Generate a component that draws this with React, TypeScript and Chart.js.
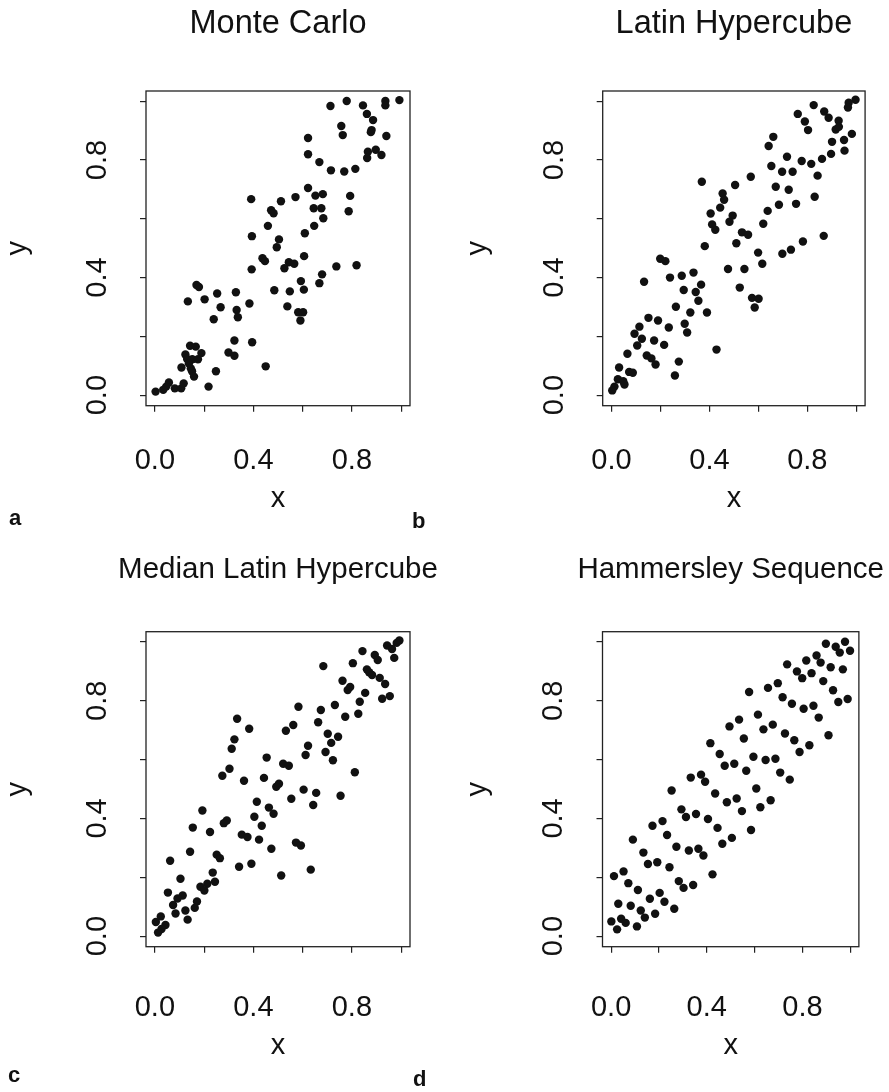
import React, { useEffect, useRef } from 'react';
import { Chart, registerables } from 'chart.js';

Chart.register(...registerables);

const FONT = "'Liberation Sans', Arial, Helvetica, sans-serif";
const INK = '#111111';

const titles = ['Monte Carlo', 'Latin Hypercube', 'Median Latin Hypercube', 'Hammersley Sequence'];
const panelLetters = ['a', 'b', 'c', 'd'];
const tickValues = [0, 0.2, 0.4, 0.6, 0.8, 1.0];
const tickLabels = ['0.0', '', '0.4', '', '0.8', ''];

// a: Monte Carlo
const mcX = [0.713, 0.779, 0.845, 0.936, 0.936, 0.993, 0.861, 0.886, 0.757, 0.763, 0.880, 0.877, 0.622, 0.940, 0.622, 0.865, 0.897, 0.862, 0.920, 0.668, 0.715, 0.769, 0.814, 0.622, 0.652, 0.682, 0.571, 0.793, 0.391, 0.512, 0.472, 0.482, 0.645, 0.676, 0.787, 0.684, 0.459, 0.647, 0.394, 0.504, 0.609, 0.495, 0.437, 0.447, 0.606, 0.544, 0.566, 0.526, 0.393, 0.737, 0.819, 0.679, 0.668, 0.593, 0.605, 0.485, 0.548, 0.169, 0.179, 0.253, 0.329, 0.134, 0.202, 0.267, 0.384, 0.538, 0.332, 0.337, 0.239, 0.582, 0.602, 0.591, 0.323, 0.395, 0.143, 0.166, 0.299, 0.323, 0.189, 0.124, 0.131, 0.152, 0.175, 0.138, 0.108, 0.146, 0.151, 0.159, 0.450, 0.248, 0.218, 0.057, 0.046, 0.034, 0.003, 0.081, 0.107, 0.117];
const mcY = [0.984, 1.001, 0.986, 1.001, 0.986, 1.004, 0.957, 0.936, 0.916, 0.885, 0.902, 0.895, 0.875, 0.882, 0.820, 0.828, 0.835, 0.807, 0.817, 0.793, 0.765, 0.761, 0.770, 0.705, 0.679, 0.684, 0.674, 0.678, 0.667, 0.660, 0.629, 0.619, 0.636, 0.636, 0.626, 0.602, 0.576, 0.576, 0.541, 0.530, 0.551, 0.503, 0.466, 0.456, 0.473, 0.452, 0.447, 0.432, 0.428, 0.438, 0.442, 0.411, 0.381, 0.388, 0.359, 0.357, 0.353, 0.375, 0.368, 0.346, 0.350, 0.319, 0.326, 0.299, 0.312, 0.302, 0.290, 0.265, 0.258, 0.282, 0.282, 0.254, 0.186, 0.180, 0.168, 0.165, 0.145, 0.134, 0.143, 0.138, 0.123, 0.122, 0.122, 0.108, 0.094, 0.091, 0.081, 0.063, 0.098, 0.081, 0.029, 0.043, 0.029, 0.018, 0.012, 0.023, 0.023, 0.040];

// b: Latin Hypercube
const lhX = [0.997, 0.969, 0.966, 0.826, 0.869, 0.887, 0.928, 0.761, 0.790, 0.803, 0.916, 0.929, 0.982, 0.950, 0.901, 0.952, 0.897, 0.860, 0.816, 0.777, 0.661, 0.642, 0.717, 0.653, 0.697, 0.740, 0.842, 0.569, 0.369, 0.505, 0.671, 0.724, 0.830, 0.454, 0.460, 0.444, 0.405, 0.495, 0.482, 0.684, 0.754, 0.638, 0.620, 0.411, 0.424, 0.533, 0.558, 0.782, 0.867, 0.381, 0.510, 0.733, 0.698, 0.599, 0.616, 0.199, 0.220, 0.476, 0.543, 0.239, 0.287, 0.335, 0.133, 0.366, 0.295, 0.344, 0.524, 0.355, 0.574, 0.601, 0.585, 0.263, 0.322, 0.390, 0.151, 0.190, 0.299, 0.234, 0.114, 0.309, 0.094, 0.124, 0.174, 0.105, 0.215, 0.429, 0.065, 0.144, 0.163, 0.180, 0.275, 0.259, 0.031, 0.072, 0.087, 0.026, 0.048, 0.053, 0.012, 0.003];
const lhY = [1.005, 0.995, 0.979, 0.987, 0.965, 0.944, 0.934, 0.957, 0.931, 0.902, 0.904, 0.913, 0.889, 0.868, 0.862, 0.832, 0.821, 0.804, 0.787, 0.797, 0.879, 0.848, 0.811, 0.780, 0.760, 0.760, 0.747, 0.743, 0.726, 0.715, 0.709, 0.699, 0.675, 0.686, 0.665, 0.638, 0.618, 0.611, 0.590, 0.648, 0.651, 0.627, 0.583, 0.581, 0.563, 0.554, 0.546, 0.523, 0.542, 0.507, 0.517, 0.495, 0.481, 0.485, 0.447, 0.464, 0.456, 0.429, 0.429, 0.400, 0.406, 0.417, 0.386, 0.376, 0.358, 0.351, 0.366, 0.321, 0.331, 0.328, 0.298, 0.301, 0.281, 0.281, 0.263, 0.254, 0.243, 0.230, 0.233, 0.213, 0.209, 0.192, 0.186, 0.169, 0.171, 0.155, 0.141, 0.135, 0.125, 0.104, 0.114, 0.067, 0.094, 0.079, 0.076, 0.054, 0.047, 0.036, 0.029, 0.016];

// c: Median Latin Hypercube
const mlhX = [0.993, 0.982, 0.943, 0.963, 0.843, 0.893, 0.905, 0.972, 0.684, 0.804, 0.861, 0.870, 0.882, 0.913, 0.935, 0.762, 0.793, 0.783, 0.854, 0.954, 0.923, 0.832, 0.731, 0.674, 0.583, 0.773, 0.826, 0.663, 0.334, 0.383, 0.562, 0.532, 0.702, 0.744, 0.323, 0.716, 0.622, 0.312, 0.693, 0.612, 0.454, 0.723, 0.521, 0.544, 0.812, 0.303, 0.274, 0.362, 0.443, 0.504, 0.493, 0.604, 0.655, 0.754, 0.554, 0.643, 0.414, 0.463, 0.482, 0.193, 0.404, 0.292, 0.280, 0.434, 0.154, 0.224, 0.353, 0.376, 0.423, 0.573, 0.593, 0.473, 0.143, 0.251, 0.264, 0.062, 0.342, 0.392, 0.633, 0.235, 0.513, 0.104, 0.244, 0.213, 0.185, 0.201, 0.053, 0.113, 0.092, 0.171, 0.074, 0.162, 0.124, 0.084, 0.024, 0.133, 0.004, 0.043, 0.027, 0.013];
const mlhY = [1.005, 0.997, 0.988, 0.976, 0.969, 0.956, 0.939, 0.946, 0.918, 0.928, 0.907, 0.897, 0.888, 0.878, 0.857, 0.868, 0.847, 0.837, 0.827, 0.816, 0.807, 0.797, 0.786, 0.769, 0.780, 0.746, 0.756, 0.727, 0.739, 0.705, 0.718, 0.698, 0.688, 0.678, 0.669, 0.657, 0.647, 0.637, 0.626, 0.616, 0.607, 0.598, 0.586, 0.579, 0.557, 0.569, 0.545, 0.528, 0.538, 0.518, 0.508, 0.498, 0.487, 0.477, 0.467, 0.446, 0.457, 0.437, 0.416, 0.427, 0.406, 0.393, 0.384, 0.375, 0.369, 0.354, 0.345, 0.337, 0.328, 0.318, 0.308, 0.297, 0.287, 0.277, 0.265, 0.256, 0.236, 0.246, 0.226, 0.216, 0.206, 0.195, 0.185, 0.178, 0.168, 0.155, 0.148, 0.138, 0.128, 0.118, 0.106, 0.096, 0.087, 0.077, 0.067, 0.056, 0.048, 0.038, 0.024, 0.012];

// d: Hammersley Sequence
const hsX = [0.978, 0.898, 0.939, 0.956, 0.999, 0.859, 0.816, 0.876, 0.736, 0.918, 0.969, 0.777, 0.838, 0.799, 0.887, 0.697, 0.656, 0.577, 0.928, 0.717, 0.989, 0.950, 0.756, 0.805, 0.846, 0.614, 0.868, 0.535, 0.495, 0.637, 0.676, 0.909, 0.727, 0.555, 0.766, 0.415, 0.829, 0.788, 0.454, 0.595, 0.646, 0.687, 0.475, 0.515, 0.565, 0.707, 0.747, 0.333, 0.376, 0.393, 0.253, 0.607, 0.435, 0.484, 0.525, 0.667, 0.624, 0.547, 0.294, 0.313, 0.355, 0.405, 0.173, 0.215, 0.445, 0.234, 0.585, 0.091, 0.273, 0.325, 0.365, 0.386, 0.465, 0.505, 0.135, 0.154, 0.193, 0.244, 0.052, 0.012, 0.424, 0.072, 0.112, 0.283, 0.303, 0.343, 0.203, 0.162, 0.223, 0.030, 0.082, 0.124, 0.264, 0.184, 0.141, 0.042, 0.001, 0.061, 0.025, 0.108];
const hsY = [1.001, 0.994, 0.984, 0.964, 0.970, 0.954, 0.937, 0.930, 0.924, 0.914, 0.907, 0.900, 0.894, 0.877, 0.867, 0.860, 0.844, 0.830, 0.836, 0.812, 0.806, 0.796, 0.790, 0.773, 0.783, 0.753, 0.743, 0.736, 0.713, 0.703, 0.719, 0.683, 0.689, 0.672, 0.666, 0.656, 0.649, 0.626, 0.619, 0.610, 0.599, 0.603, 0.579, 0.586, 0.562, 0.556, 0.532, 0.539, 0.549, 0.525, 0.495, 0.502, 0.485, 0.455, 0.468, 0.462, 0.438, 0.425, 0.431, 0.405, 0.415, 0.398, 0.375, 0.391, 0.368, 0.344, 0.361, 0.328, 0.304, 0.291, 0.297, 0.274, 0.314, 0.334, 0.284, 0.245, 0.251, 0.234, 0.220, 0.204, 0.210, 0.180, 0.157, 0.187, 0.164, 0.174, 0.147, 0.127, 0.117, 0.110, 0.103, 0.087, 0.093, 0.076, 0.063, 0.059, 0.050, 0.045, 0.023, 0.033];

const seriesX = [mcX, lhX, mlhX, hsX];
const seriesY = [mcY, lhY, mlhY, hsY];

type PanelLayout = {
  left: number; top: number; width: number; height: number;
  boxLeft: number; boxTop: number; boxRight: number; boxBottom: number;
  titleSize: number; titleBaseline: number;
  yTitlePad: number; xTickPad: number; xTitlePad: number;
};

const layouts: PanelLayout[] = [
  { left: 0, top: 0, width: 444, height: 546, boxLeft: 146, boxTop: 91, boxRight: 410, boxBottom: 405.7, titleSize: 32.5, titleBaseline: 33, yTitlePad: 6, xTickPad: 32, xTitlePad: 30 },
  { left: 444, top: 0, width: 445, height: 546, boxLeft: 158.7, boxTop: 91, boxRight: 423.3, boxBottom: 405.7, titleSize: 32.5, titleBaseline: 33, yTitlePad: 22, xTickPad: 32, xTitlePad: 30 },
  { left: 0, top: 540, width: 444, height: 552, boxLeft: 146, boxTop: 91.7, boxRight: 410, boxBottom: 406.7, titleSize: 29.5, titleBaseline: 38, yTitlePad: 6, xTickPad: 38, xTitlePad: 29 },
  { left: 444, top: 540, width: 445, height: 552, boxLeft: 158.5, boxTop: 91.7, boxRight: 423.3, boxBottom: 406.7, titleSize: 29.5, titleBaseline: 38, yTitlePad: 22, xTickPad: 38, xTitlePad: 29 },
];

const letterPos = [
  { left: 9, top: 507 },
  { left: 412, top: 510 },
  { left: 8, top: 1064 },
  { left: 413, top: 1068 },
];

const boxPlugin = {
  id: 'rbox',
  afterDatasetsDraw(chart: any) {
    const { ctx, chartArea: a } = chart;
    ctx.save();
    ctx.strokeStyle = '#222';
    ctx.lineWidth = 1.3;
    ctx.strokeRect(a.left, a.top, a.right - a.left, a.bottom - a.top);
    ctx.restore();
  },
};

const panelTitlePlugin = {
  id: 'panelTitle',
  afterDraw(chart: any, _args: any, opts: any) {
    const { ctx, chartArea: a } = chart;
    ctx.save();
    ctx.font = `normal ${opts.size}px ${FONT}`;
    ctx.fillStyle = INK;
    ctx.textAlign = 'center';
    ctx.textBaseline = 'alphabetic';
    ctx.fillText(opts.text, (a.left + a.right) / 2, opts.baseline);
    ctx.restore();
  },
};

const AXIS_SIZE = 29;

function Panel({ idx }: { idx: number }) {
  const ref = useRef<HTMLCanvasElement | null>(null);
  const L = layouts[idx];
  useEffect(() => {
    if (!ref.current) return;
    const xs = seriesX[idx];
    const ys = seriesY[idx];
    const chart = new Chart(ref.current, {
      type: 'scatter',
      data: {
        datasets: [
          {
            data: xs.map((x, i) => ({ x, y: ys[i] })),
            backgroundColor: INK,
            borderColor: INK,
            borderWidth: 0,
            pointRadius: 4.2,
            pointHoverRadius: 4.2,
          },
        ],
      },
      options: {
        animation: false,
        responsive: false,
        events: [],
        layout: { padding: { left: 0, top: L.boxTop, right: L.width - L.boxRight, bottom: 0 } },
        plugins: {
          legend: { display: false },
          tooltip: { enabled: false },
          title: { display: false },
          panelTitle: { text: titles[idx], size: L.titleSize, baseline: L.titleBaseline },
        },
        scales: {
          x: {
            type: 'linear',
            min: -0.036,
            max: 1.036,
            afterBuildTicks: (s: any) => { s.ticks = tickValues.map((v) => ({ value: v })); },
            afterFit: (s: any) => { s.height = L.height - L.boxBottom; },
            ticks: {
              callback: (_v: any, i: number) => tickLabels[i],
              autoSkip: false,
              maxRotation: 0,
              minRotation: 0,
              padding: L.xTickPad,
              color: INK,
              font: { family: FONT, size: AXIS_SIZE, lineHeight: 1.2 },
            },
            grid: { drawOnChartArea: false, drawTicks: true, tickLength: 6, color: '#222', lineWidth: 1.2 },
            border: { display: false },
            title: {
              display: true,
              text: 'x',
              color: INK,
              font: { family: FONT, size: AXIS_SIZE, lineHeight: 1.2 },
              padding: { top: 0, bottom: L.xTitlePad },
            },
          },
          y: {
            type: 'linear',
            min: -0.036,
            max: 1.035,
            afterBuildTicks: (s: any) => { s.ticks = tickValues.map((v) => ({ value: v })); },
            afterFit: (s: any) => { s.width = L.boxLeft; },
            ticks: {
              callback: (_v: any, i: number) => tickLabels[i],
              autoSkip: false,
              minRotation: 90,
              maxRotation: 90,
              crossAlign: 'center',
              padding: 22,
              color: INK,
              font: { family: FONT, size: AXIS_SIZE, lineHeight: 1.2 },
            },
            grid: { drawOnChartArea: false, drawTicks: true, tickLength: 6, color: '#222', lineWidth: 1.2 },
            border: { display: false },
            title: {
              display: true,
              text: 'y',
              color: INK,
              font: { family: FONT, size: AXIS_SIZE, lineHeight: 0.85 },
              padding: { top: L.yTitlePad, bottom: 0 },
            },
          },
        },
      },
      plugins: [boxPlugin, panelTitlePlugin],
    } as any);
    return () => chart.destroy();
  }, [idx]);
  return (
    <canvas
      ref={ref}
      width={L.width}
      height={L.height}
      style={{ position: 'absolute', left: L.left, top: L.top, width: L.width, height: L.height }}
    />
  );
}

export default function App() {
  return (
    <div style={{ position: 'absolute', left: 0, top: 0, width: 889, height: 1092, background: '#fff', overflow: 'hidden' }}>
      {[0, 1, 2, 3].map((i) => (
        <Panel key={i} idx={i} />
      ))}
      {panelLetters.map((t, i) => (
        <span
          key={t}
          style={{
            position: 'absolute',
            left: letterPos[i].left,
            top: letterPos[i].top,
            fontFamily: FONT,
            fontWeight: 'bold',
            fontSize: 22,
            lineHeight: 1,
            color: INK,
          }}
        >
          {t}
        </span>
      ))}
    </div>
  );
}
